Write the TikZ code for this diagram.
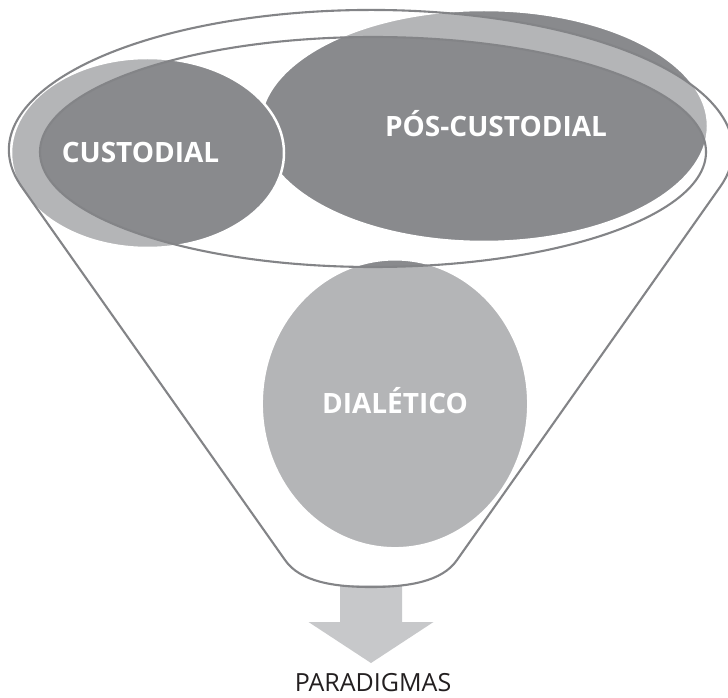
\documentclass[tikz,border=0pt]{standalone}
\usepackage{fontspec}
\setmainfont{Open Sans}
\definecolor{dkgrey}{HTML}{898A8D}
\definecolor{lngrey}{HTML}{838487}
\definecolor{argrey}{HTML}{C7C8CA}
\definecolor{txtdark}{HTML}{231F20}
\tikzset{
  blob/.style={fill=dkgrey, draw=white, line width=2.5pt},
  funnelline/.style={draw=lngrey, line width=2.1pt},
  blobtext/.style={text=white, font=\bfseries\fontsize{28}{32}\selectfont, inner sep=0pt, anchor=base},
  plaintext/.style={text=txtdark, font=\fontsize{25}{28}\selectfont, inner sep=0pt, anchor=base}
}
\begin{document}
\begin{tikzpicture}[x=1pt,y=1pt]
\clip (0,0) rectangle (728,697);
\fill[white] (0,0) rectangle (728,697);
% arrow
\fill[argrey] (340,112) -- (402,112) -- (402,75) -- (433.5,75) -- (371,34) -- (308.5,75) -- (340,75) -- cycle;
% ellipses
\path[blob] (484,571) ellipse [x radius=224, y radius=116];
\path[blob] (147.5,544) ellipse [x radius=136.5, y radius=95];
\path[blob] (395,293.2) ellipse [x radius=133.3, y radius=144.5];
% funnel overlay
\fill[white, fill opacity=0.37, even odd rule]
  (21.7,510.2) arc[start angle=195.25, end angle=-15.25, x radius=362, y radius=140]
  -- (457,137) .. controls (442,115) and (407,110) .. (371,110)
  .. controls (335,110) and (300,115) .. (285,137) -- cycle
  (373,545) ellipse [x radius=333, y radius=115];
\draw[funnelline]
  (21.7,510.2) arc[start angle=195.25, end angle=-15.25, x radius=362, y radius=140]
  -- (457,137) .. controls (442,115) and (407,110) .. (371,110)
  .. controls (335,110) and (300,115) .. (285,137) -- cycle;
\draw[funnelline] (373,545) ellipse [x radius=333, y radius=115];
% texts
\node[blobtext] (cust) at (140.5,534) {CUSTODIAL};
\node[blobtext] (pos) at (496,560) {PÓS-CUSTODIAL};
\node[blobtext] (dial) at (395,284) {DIALÉTICO};
\node[plaintext] (par) at (373,6) {PARADIGMAS};
\end{tikzpicture}
\end{document}
